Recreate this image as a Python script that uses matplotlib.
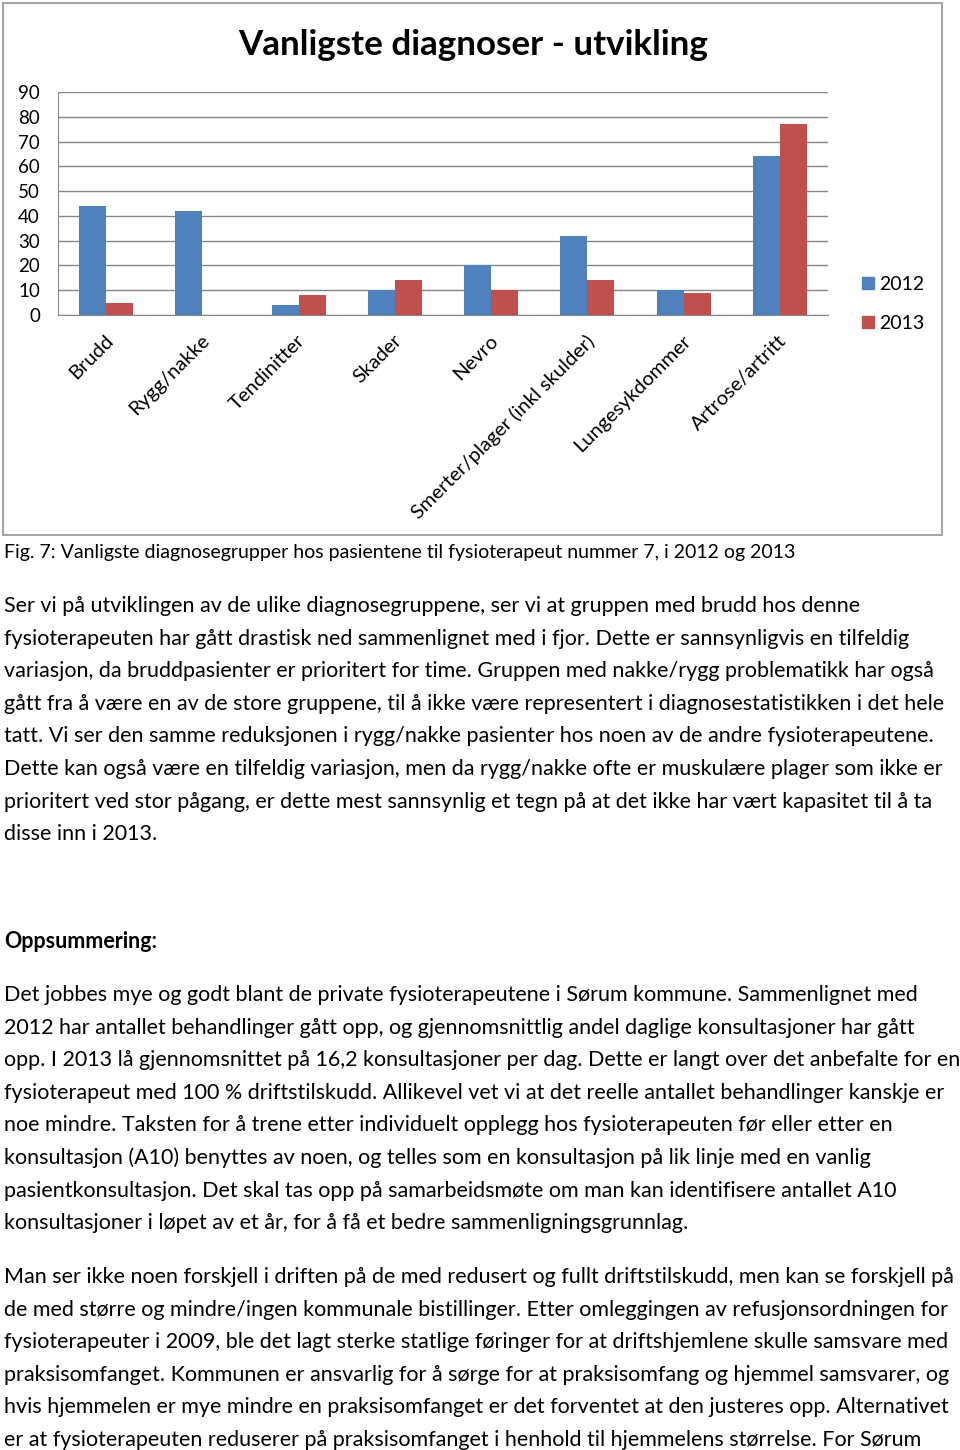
import numpy as np
import matplotlib.pyplot as plt
from matplotlib.patches import Rectangle
from matplotlib.lines import Line2D
import matplotlib.transforms as mtransforms

plt.rcParams['font.family'] = ['Lato', 'DejaVu Sans']

categories = ['Brudd', 'Rygg/nakke', 'Tendinitter', 'Skader', 'Nevro',
              'Smerter/plager (inkl skulder)', 'Lungesykdommer', 'Artrose/artritt']
years = ['2012', '2013']
v2012 = [44, 42, 4, 10, 20, 32, 10, 64]
v2013 = [5, 0, 8, 14, 10, 14, 9, 77]
colors = ['#4F81BD', '#C0504D']

title = 'Vanligste diagnoser - utvikling'
caption = 'Fig. 7: Vanligste diagnosegrupper hos pasientene til fysioterapeut nummer 7, i 2012 og 2013'

para1 = [
    'Ser vi på utviklingen av de ulike diagnosegruppene, ser vi at gruppen med brudd hos denne',
    'fysioterapeuten har gått drastisk ned sammenlignet med i fjor. Dette er sannsynligvis en tilfeldig',
    'variasjon, da bruddpasienter er prioritert for time. Gruppen med nakke/rygg problematikk har også',
    'gått fra å være en av de store gruppene, til å ikke være representert i diagnosestatistikken i det hele',
    'tatt. Vi ser den samme reduksjonen i rygg/nakke pasienter hos noen av de andre fysioterapeutene.',
    'Dette kan også være en tilfeldig variasjon, men da rygg/nakke ofte er muskulære plager som ikke er',
    'prioritert ved stor pågang, er dette mest sannsynlig et tegn på at det ikke har vært kapasitet til å ta',
    'disse inn i 2013.',
]
heading = 'Oppsummering:'
para2 = [
    'Det jobbes mye og godt blant de private fysioterapeutene i Sørum kommune. Sammenlignet med',
    '2012 har antallet behandlinger gått opp, og gjennomsnittlig andel daglige konsultasjoner har gått',
    'opp. I 2013 lå gjennomsnittet på 16,2 konsultasjoner per dag. Dette er langt over det anbefalte for en',
    'fysioterapeut med 100 % driftstilskudd. Allikevel vet vi at det reelle antallet behandlinger kanskje er',
    'noe mindre. Taksten for å trene etter individuelt opplegg hos fysioterapeuten før eller etter en',
    'konsultasjon (A10) benyttes av noen, og telles som en konsultasjon på lik linje med en vanlig',
    'pasientkonsultasjon. Det skal tas opp på samarbeidsmøte om man kan identifisere antallet A10',
    'konsultasjoner i løpet av et år, for å få et bedre sammenligningsgrunnlag.',
]
para3 = [
    'Man ser ikke noen forskjell i driften på de med redusert og fullt driftstilskudd, men kan se forskjell på',
    'de med større og mindre/ingen kommunale bistillinger. Etter omleggingen av refusjonsordningen for',
    'fysioterapeuter i 2009, ble det lagt sterke statlige føringer for at driftshjemlene skulle samsvare med',
    'praksisomfanget. Kommunen er ansvarlig for å sørge for at praksisomfang og hjemmel samsvarer, og',
    'hvis hjemmelen er mye mindre en praksisomfanget er det forventet at den justeres opp. Alternativet',
    'er at fysioterapeuten reduserer på praksisomfanget i henhold til hjemmelens størrelse. For Sørum',
]

W, H = 960, 1450
fig = plt.figure(figsize=(W / 100, H / 100), dpi=100)

def fx(px):
    return px / W

def fy(py):
    return 1 - py / H

# chart frame
fig.patches.append(Rectangle((fx(3), fy(535)), fx(942) - fx(3), fy(3) - fy(535),
                             transform=fig.transFigure, fill=False,
                             edgecolor='#A6A6A6', linewidth=1.5))

ax = fig.add_axes([fx(58), fy(315), fx(828) - fx(58), fy(92) - fy(315)])
x = np.arange(len(categories))
w = 0.28
ax.bar(x - w / 2, v2012, w, color=colors[0], label=years[0], zorder=3)
ax.bar(x + w / 2, v2013, w, color=colors[1], label=years[1], zorder=3)

ax.set_xlim(-0.5, len(categories) - 0.5)
ax.set_ylim(0, 90)
ax.set_yticks(np.arange(0, 91, 10))
ax.yaxis.grid(True, color='#868686', linewidth=1)
ax.set_axisbelow(True)
for s in ['top', 'right']:
    ax.spines[s].set_visible(False)
for s in ['left', 'bottom']:
    ax.spines[s].set_color('#868686')
ax.tick_params(axis='y', length=0, pad=13, labelsize=13.5)
ax.tick_params(axis='x', length=0, pad=12, labelsize=14.5)
ax.set_xticks(x)
ax.set_xticklabels(categories, rotation=45, ha='right', rotation_mode='anchor')
offset = mtransforms.ScaledTranslation(-2 / 100, 0, fig.dpi_scale_trans)
for lab in ax.get_xticklabels():
    lab.set_transform(lab.get_transform() + offset)

handles = [Line2D([], [], marker='s', linestyle='', markersize=8,
                  color=c) for c in colors]
fig.legend(handles, years, loc='upper left', bbox_to_anchor=(fx(849), fy(266)),
           frameon=False, fontsize=14, labelspacing=1.15, handletextpad=0.05,
           handlelength=1.0, borderpad=0)

fig.text(fx(473), fy(45), title, ha='center', va='center', fontsize=25.2,
         fontweight='bold')

fig.text(fx(4), fy(558), caption, ha='left', va='baseline', fontsize=14)

size = 15.5
step = 32.6
for i, line in enumerate(para1):
    fig.text(fx(4), fy(612 + i * step), line, ha='left', va='baseline', fontsize=size)
fig.text(fx(4), fy(948), heading, ha='left', va='baseline', fontsize=size,
         fontweight='bold')
for i, line in enumerate(para2):
    fig.text(fx(4), fy(1001 + i * step), line, ha='left', va='baseline', fontsize=size)
for i, line in enumerate(para3):
    fig.text(fx(4), fy(1283 + i * step), line, ha='left', va='baseline', fontsize=size)

fig.savefig('out.png', dpi=100)
